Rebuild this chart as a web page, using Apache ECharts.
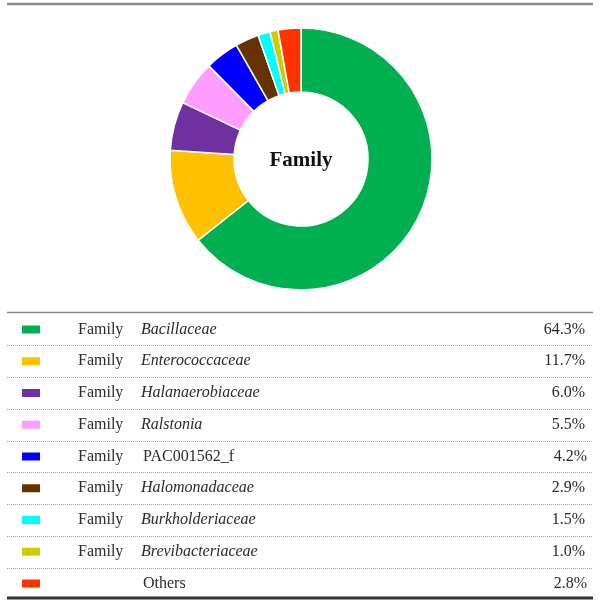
<!DOCTYPE html>
<html><head><meta charset="utf-8">
<script src="https://cdn.jsdelivr.net/npm/echarts@6/dist/echarts.min.js"></script>
<style>html,body{margin:0;padding:0;background:#fff}#c{width:601px;height:607px}</style>
</head><body><div id="c"></div>
<script>
const names = ['Bacillaceae','Enterococcaceae','Halanaerobiaceae','Ralstonia','PAC001562_f','Halomonadaceae','Burkholderiaceae','Brevibacteriaceae','Others'];
const ranks = ['Family','Family','Family','Family','Family','Family','Family','Family',''];
const italic = [true,true,true,true,false,true,true,true,false];
const values = [64.3,11.7,6.0,5.5,4.2,2.9,1.5,1.0,2.8];
const colors = ['#00B050','#FFC000','#7030A0','#FF9CFF','#0000FF','#663300','#00FFFF','#CCCC00','#FF3300'];
const centerLabel = 'Family';

const FONT = '"Liberation Serif","DejaVu Serif",serif';
const rowTop = 313.5, rowH = 31.75;
const FS = 16;

const data = names.map((n,i)=>({name:n, value:values[i], itemStyle:{color:colors[i]}}));

const graphics = [
  {type:'line', shape:{x1:7,y1:4,x2:593,y2:4}, style:{stroke:'#8c8c8c', lineWidth:2.5}},
  {type:'text', x:301, y:161, style:{text:centerLabel, font:'bold 21px '+FONT, fill:'#111', align:'center', verticalAlign:'middle'}},
  {type:'line', shape:{x1:7,y1:312.5,x2:593,y2:312.5}, style:{stroke:'#8a8a8a', lineWidth:1.5}},
  {type:'line', shape:{x1:7,y1:598,x2:593,y2:598}, style:{stroke:'#333', lineWidth:3}}
];
for (let i=1;i<names.length;i++){
  const y = Math.round(rowTop + rowH*i) + 0.5;
  graphics.push({type:'line', shape:{x1:7,y1:y,x2:593,y2:y}, style:{stroke:'#a0a0a0', lineWidth:1, lineDash:[1,1]}});
}

const chart = echarts.init(document.getElementById('c'));
const txt = {fontFamily:FONT, fontSize:FS, color:'#2a2a2a', lineHeight:rowH};
chart.setOption({
  animation:false,
  legend:{
    orient:'vertical', left:20, top:rowTop, padding:0, itemGap:0,
    itemWidth:20, itemHeight:10, icon:'rect', selectedMode:false,
    data: names,
    formatter: function(n){
      const i = names.indexOf(n);
      const nm = italic[i] ? '{b|'+n+'}' : '{n|'+n+'}';
      return '{s|}{a|'+ranks[i]+'}'+nm+'{c|'+values[i].toFixed(1)+'%}';
    },
    textStyle:Object.assign({}, txt, {
      rich:{
        s:{width:32, lineHeight:rowH},
        a:Object.assign({width:63}, txt),
        b:Object.assign({width:380, fontStyle:'italic'}, txt),
        n:Object.assign({width:380, padding:[0,0,0,2]}, txt),
        c:Object.assign({width:64, align:'right'}, txt)
      }
    })
  },
  series:[{
    type:'pie', center:[301,159], radius:[67,131], startAngle:90, clockwise:true,
    label:{show:false}, labelLine:{show:false}, silent:true,
    itemStyle:{borderColor:'#fff', borderWidth:1.5},
    data:data
  }],
  graphic: graphics
});
</script></body></html>
